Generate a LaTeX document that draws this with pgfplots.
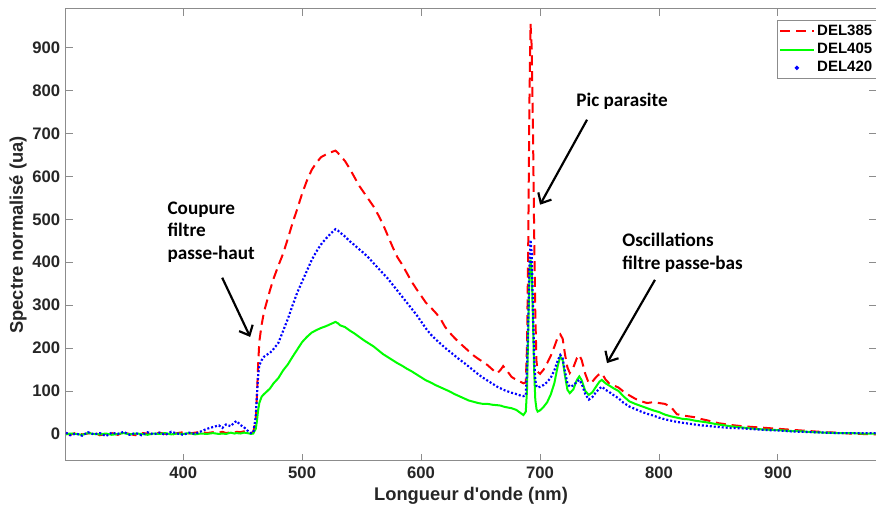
\documentclass[border=0pt]{standalone}
\usepackage{fontspec}
\setmainfont{Liberation Sans}
\newfontfamily\annotfont{Carlito}
\usepackage{pgfplots}
\pgfplotsset{compat=1.18}
\usepackage{pgfplotstable}
\usetikzlibrary{arrows.meta}
\definecolor{axgray}{RGB}{140,140,140}
\definecolor{txtgray}{RGB}{38,38,38}
\pgfplotstableread{
x r g b
301.5 2 -1 3
305 -2 1 -3
310 3 0 1
315 -1 -2 -4
320 1 2 4
325 4 0 -1
330 -3 -1 2
335 0 1 -5
340 2 -2 3
345 -2 0 0
350 3 2 5
355 0 -1 -2
360 -3 1 2
365 2 0 -3
370 1 -2 4
375 -1 1 -1
380 3 0 3
385 0 2 -2
390 -2 -1 5
395 2 1 1
400 4 0 -2
405 1 2 3
410 3 -1 0
415 5 1 6
420 2 0 12
425 4 2 16
430 3 0 20
433 5 1 14
436 2 0 22
440 4 3 18
443 3 1 27
445 5 2 30
448 4 1 21
451 6 3 16
454 3 2 8
457 2 0 2
459 5 1 4
461 30 12 40
462 90 30 90
463 160 55 135
464 215 72 160
466 255 87 172
468 285 93 180
470 305 98 184
473 335 106 189
476 362 118 198
480 392 130 212
484 420 148 240
488 455 162 268
492 492 180 300
496 525 197 330
500 560 214 355
504 590 226 380
508 615 236 405
512 632 242 425
516 645 247 442
520 651 251 455
524 656 256 467
528 660 261 477
530 655 258 474
532 648 253 469
536 636 249 460
540 618 241 449
544 598 234 440
548 578 226 430
552 562 218 421
556 546 211 410
560 530 204 398
564 510 195 386
568 488 186 374
572 462 179 362
576 436 172 348
580 412 165 334
584 395 159 320
588 375 152 306
592 355 146 292
596 338 139 278
600 322 132 262
604 306 125 246
608 295 120 232
612 283 114 221
616 270 109 211
620 250 104 201
624 236 99 192
628 224 93 183
632 213 88 174
636 203 83 166
640 193 78 157
644 183 75 148
648 175 72 139
652 168 70 131
656 160 70 124
660 150 68 117
664 141 67 110
667 150 66 106
669 158 64 103
672 148 62 100
676 133 60 96
680 126 56 93
684 121 48 89
686 118 44 88
688 120 52 90
689 200 100 150
690 420 230 260
691 760 360 390
692 955 406 452
693 900 380 420
694 720 270 300
695 480 150 180
696 280 80 125
697 170 58 112
698 145 52 108
700 140 55 110
703 150 63 114
706 165 74 121
709 182 92 131
712 203 118 148
715 226 160 172
717 232 180 184
719 222 172 176
721 185 135 145
723 155 103 118
725 142 95 110
728 155 104 113
731 177 126 122
733 184 134 126
735 172 125 117
738 140 100 93
741 118 91 80
744 122 97 86
747 132 110 97
750 140 122 106
752 141 126 110
755 127 118 103
758 118 113 98
762 113 106 90
766 108 100 83
770 99 88 73
775 90 76 64
780 82 70 58
785 76 65 52
790 72 60 47
795 74 55 43
800 72 51 38
805 70 45 34
810 63 41 31
815 46 38 28
820 43 35 26
825 41 34 24
830 39 31 22
835 35 29 20
840 32 27 19
850 25 22 16
860 21 18 14
870 18 15 13
880 16 12 11
890 14 10 9
900 12 9 8
910 10 7 6
920 8 6 5
930 6 4 4
940 4 3 3
950 3 2 2
960 1 2 2
970 0 1 2
982.4 -1 1 2
}\spectra
\begin{document}
\begin{tikzpicture}
\useasboundingbox (-39.6pt,-30pt) rectangle (486pt,276.6pt);
\begin{axis}[
  scale only axis, width=486pt, height=271.2pt,
  xmin=301.5, xmax=982.4, ymin=-63, ymax=990,
  xtick={400,500,...,900}, ytick={0,100,...,900},
  tick align=inside, major tick length=4.2pt,
  axis line style={axgray, line width=0.6pt},
  every tick/.style={axgray, line width=0.6pt},
  tick label style={font=\bfseries\fontsize{10}{12}\selectfont, text=txtgray},
  /pgf/number format/assume math mode=true,
  xlabel={Longueur d\textquotesingle onde (nm)}, ylabel={Spectre normalisé (ua)},
  label style={font=\bfseries\fontsize{11}{13}\selectfont, text=txtgray},
  xlabel style={at={(axis description cs:0.5,-0.0774)}, anchor=center},
  ylabel style={at={(axis description cs:-0.0593,0.5)}, anchor=center},
  legend style={at={(axis description cs:0.8778,0.9757)}, anchor=north west,
    draw=axgray, line width=0.6pt, fill=white,
    font=\bfseries\fontsize{9}{11}\selectfont,
    inner xsep=1pt, inner ysep=1pt, row sep=0pt,
    nodes={inner sep=1.6pt}},
  legend cell align=left,
  legend image code/.code={\draw[#1] (0pt,0pt) -- (20pt,0pt);},
]
\addplot[red, line width=1.2pt, dash pattern=on 6pt off 3.5pt] table[x=x,y=r]{\spectra};
\addlegendentry{DEL385}
\addplot[green, line width=1.2pt] table[x=x,y=g]{\spectra};
\addlegendentry{DEL405}
\addplot[blue, line width=1.3pt, dash pattern=on 1.2pt off 1.2pt,
  legend image code/.code={\fill[blue, solid] (10pt,0pt) circle (0.55pt);}] table[x=x,y=b]{\spectra};
\addlegendentry{DEL420}

\node[font=\annotfont\bfseries\fontsize{11.5}{13.5}\selectfont, align=left, anchor=west, inner sep=0pt] at (axis cs:386.6,471) {Coupure\\filtre\\passe-haut};
\draw[-{Straight Barb[length=5pt,width=9pt]}, line width=1.3pt] (axis cs:432.8,364) -- (axis cs:456.3,226);
\node[font=\annotfont\bfseries\fontsize{11.5}{13.5}\selectfont, anchor=west, inner sep=0pt] at (axis cs:730.3,776) {Pic parasite};
\draw[-{Straight Barb[length=5pt,width=9pt]}, line width=1.3pt] (axis cs:739.5,732) -- (axis cs:700,534);
\node[font=\annotfont\bfseries\fontsize{11.5}{13.5}\selectfont, align=left, anchor=west, inner sep=0pt] at (axis cs:768.9,422) {Oscillations\\filtre passe-bas};
\draw[-{Straight Barb[length=5pt,width=9pt]}, line width=1.3pt] (axis cs:796.6,359) -- (axis cs:756.3,165);
\end{axis}
\end{tikzpicture}
\end{document}
